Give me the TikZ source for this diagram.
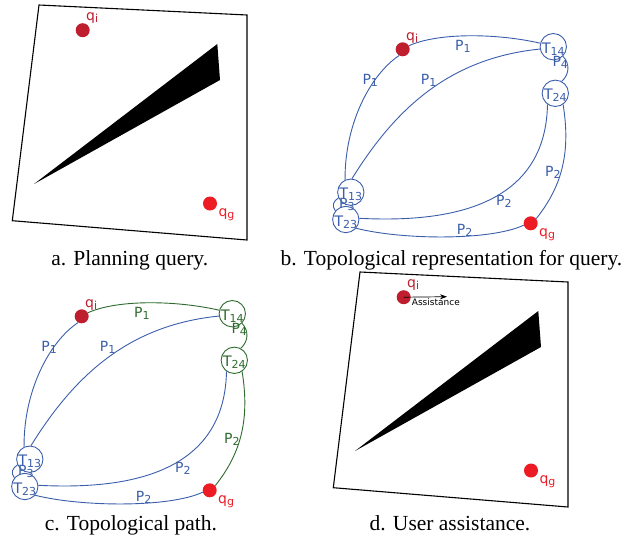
\documentclass[tikz,border=0pt]{standalone}
\usepackage{fontspec}
\setmainfont{Liberation Serif}
\newfontfamily\labfont{DejaVu Sans}
\usetikzlibrary{arrows.meta,backgrounds}
\definecolor{bluel}{HTML}{3B5EAB}
\definecolor{greenl}{HTML}{2E6B2E}
\definecolor{redd}{HTML}{BE1E2D}
\definecolor{redb}{HTML}{ED1C24}
\newcommand{\lb}[2]{#1\raisebox{-2pt}{\fontsize{11}{11}\selectfont #2}}
\tikzset{
  qdot/.style={circle, minimum size=14pt, inner sep=0pt},
  tcirc/.style={circle, draw, line width=0.9pt, minimum size=25.4pt, inner sep=0pt,
     text height=13.2pt, text depth=0pt, font=\labfont\fontsize{14.5}{14.5}\selectfont},
  elab/.style={anchor=base west, inner sep=0pt, font=\labfont\fontsize{14}{14}\selectfont},
  edgeline/.style={line width=0.9pt},
  capt/.style={anchor=base, inner sep=0pt, font=\fontsize{21.5}{24}\selectfont},
}
\newcommand{\workspace}[2]{%
\begin{scope}[shift={#2}]
\draw[line width=1.1pt, line join=miter] (39,5) -- (247,15) -- (247,240) -- (12.3,220.7) -- cycle;
\fill (34,184) -- (217.3,44) -- (220,80) -- cycle;
\node[qdot, fill=redd] (#1qi) at (82.7,30.2) {};
\node[qdot, fill=redb] (#1qg) at (210,203.5) {};
\node[elab, text=redd] (#1qil) at (86,20.7) {\lb{q}{i}};
\node[elab, text=redb] (#1qgl) at (218.3,216) {\lb{q}{g}};
\end{scope}}
\newcommand{\topograph}[3]{%
\begin{scope}[shift={#2}]
\node[qdot, fill=redd] (#1qi) at (402.7,49.3) {};
\node[qdot, fill=redb] (#1qg) at (530.7,223.3) {};
\node[tcirc, draw=#3, text=#3] (#1t14) at (553.3,46.7) {\lb{T}{14}};
\node[tcirc, draw=#3, text=#3] (#1t24) at (555.3,93.3) {\lb{T}{24}};
\node[tcirc, draw=bluel, text=bluel] (#1t13) at (350.8,192.2) {\lb{T}{13}};
\node[tcirc, draw=bluel, text=bluel] (#1t23) at (345.8,219.5) {\lb{T}{23}};
\node[elab, text=redd] (#1qil) at (406,40) {\lb{q}{i}};
\node[elab, text=redb] (#1qgl) at (539,236) {\lb{q}{g}};
\draw[edgeline,#3] (#1qi.30) .. controls +(31.2,-13.8) and +(-41,-9.4) .. (#1t14.165);
\draw[edgeline,bluel] (#1t14.190) .. controls +(-90.8,9.1) and +(43.1,-69.5) .. (#1t13.85);
\draw[edgeline,bluel] (#1qi.240) .. controls +(-29.2,19.6) and +(-0.4,-55.6) .. (#1t13.115);
\draw[edgeline,#3] (#1t14.315) .. controls +(7,7) and +(8,-6.8) .. (#1t24.62);
\draw[edgeline,bluel] (#1t24.235) .. controls +(-2,111) and +(71.5,3.5) .. (#1t23.5);
\draw[edgeline,#3] (#1t24.305) .. controls +(7.4,46.3) and +(26.9,-33.8) .. (#1qg.40);
\draw[edgeline,bluel] (#1t23.320) .. controls +(44.5,11.4) and +(-33.9,15.9) .. (#1qg.195);
\draw[edgeline,bluel] (#1t13.205) .. controls +(-5,3) and +(-4,-5) .. (#1t23.140);
\node[elab, text=#3] (#1pa) at (455,50) {\lb{P}{1}};
\node[elab, text=bluel] (#1pb) at (420.7,84) {\lb{P}{1}};
\node[elab, text=bluel] (#1pc) at (362.3,84.3) {\lb{P}{1}};
\node[elab, text=#3] (#1pd) at (552.3,66.7) {\lb{P}{4}};
\node[elab, text=bluel] (#1pe) at (496,205.7) {\lb{P}{2}};
\node[elab, text=#3] (#1pf) at (545,176.7) {\lb{P}{2}};
\node[elab, text=bluel] (#1pg) at (456.7,234.3) {\lb{P}{2}};
\node[elab, text=bluel] (#1ph) at (339,208.3) {\lb{P}{3}};
\end{scope}}
\begin{document}
\begin{tikzpicture}[x=1pt,y=-1pt]
\useasboundingbox (0,0) rectangle (643,539);
\begin{pgfonlayer}{background}
\fill[white] (0,0) rectangle (643,539);
\end{pgfonlayer}
\workspace{a}{(0,0)}
\workspace{d}{(321,267)}
\coordinate (dtip) at (447,296.7);
\draw[line width=0.7pt, -{Stealth[length=7pt,width=5pt]}] (dqi.center) -- (dtip);
\node[anchor=base west, inner sep=0pt, font=\labfont\fontsize{9}{9}\selectfont] (dast) at (411.7,305) {Assistance};
\topograph{b}{(0,0)}{bluel}
\topograph{c}{(-321,267)}{greenl}
\node[capt] (capa) at (129.8,265) {a. Planning query.};
\node[capt] (capb) at (451.5,265) {b. Topological representation for query.};
\node[capt] (capc) at (130.9,530) {c. Topological path.};
\node[capt] (capd) at (450,530) {d. User assistance.};
\end{tikzpicture}
\end{document}
